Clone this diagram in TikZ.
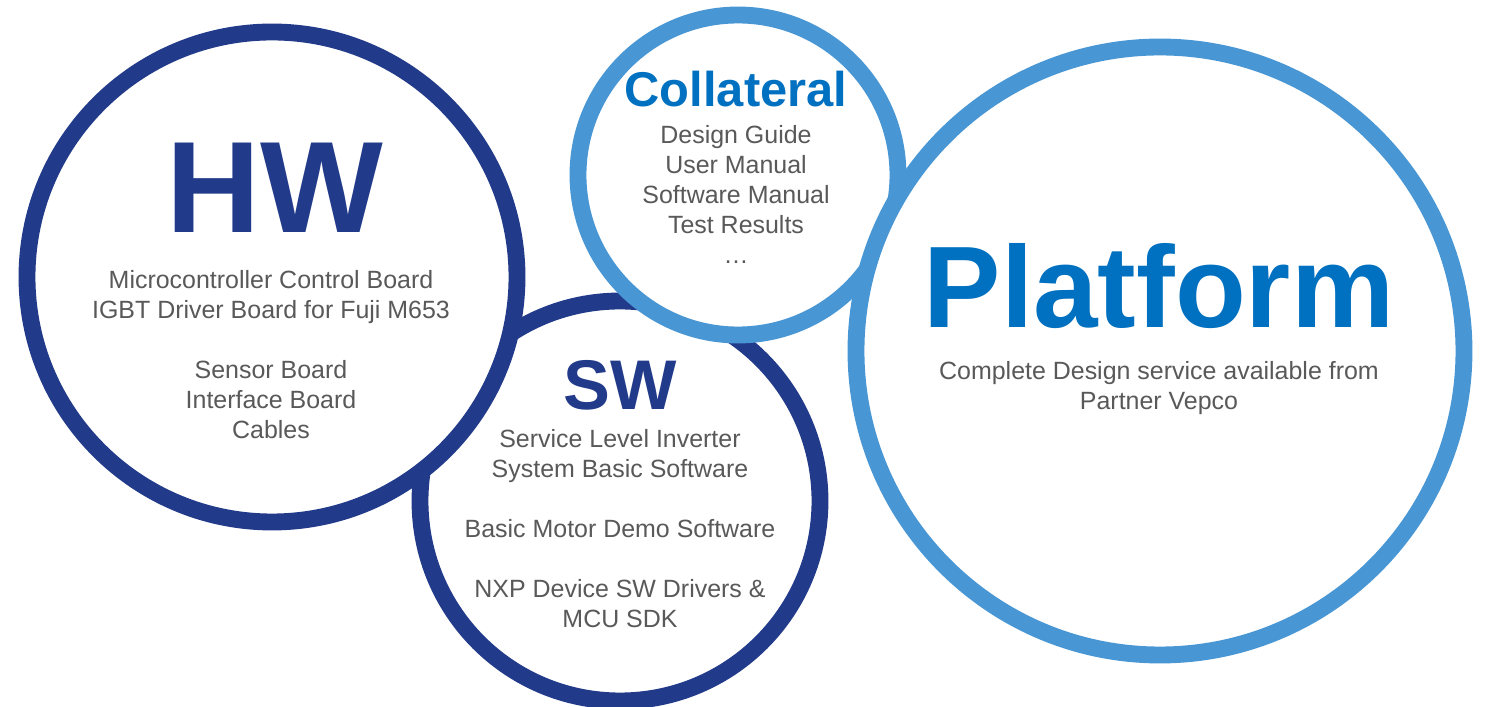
\documentclass[tikz,border=0pt]{standalone}
\usepackage{fontspec}
\setmainfont{Liberation Sans}

\definecolor{hwblue}{RGB}{34,58,138}
\definecolor{docblue}{RGB}{72,150,212}
\definecolor{titleblue}{RGB}{0,112,192}
\definecolor{textgray}{RGB}{89,89,89}

\begin{document}
\begin{tikzpicture}[
    ring/.style={circle,draw=#1,line width=4.8pt,fill=white,inner sep=0pt},
    bigtitle/.style={inner sep=0pt,anchor=base,font=\bfseries\fontsize{#1}{#1}\selectfont},
    items/.style={text=textgray,align=center,anchor=north,inner sep=0pt,
      font=\fontsize{7.1pt}{8.5pt}\selectfont}
  ]
  % \draw[help lines](0,0) grid (14.88,7.07);
  \useasboundingbox (0,0) rectangle (14.88,7.07);

  % circles, back to front
  \draw (6.20,2.06) node[ring=hwblue,minimum size=4cm] (sw) {};
  \draw (2.72,4.30) node[ring=hwblue,minimum size=4.9cm] (hw) {};
  \draw (7.38,5.32) node[ring=docblue,minimum size=3.2cm] (coll) {};
  \draw (11.60,3.56) node[ring=docblue,minimum size=6.08cm] (plat) {};

  \draw (2.75,4.74) node[bigtitle=37pt,text=hwblue] (hwtitle) {HW};
  \draw (2.71,4.37) node[items] (hwlist) {Microcontroller Control Board\\
    IGBT Driver Board for Fuji M653\\[8.5pt]
    Sensor Board\\ Interface Board\\ Cables};

  \draw (6.20,2.97) node[bigtitle=20pt,text=hwblue] (swtitle) {SW};
  \draw (6.20,2.78) node[items] (swlist) {Service Level Inverter\\
    System Basic Software\\[8.5pt]
    Basic Motor Demo Software\\[8.5pt]
    NXP Device SW Drivers \&\\ MCU SDK};

  \draw (7.36,6.00) node[bigtitle=13.9pt,text=titleblue] (colltitle) {Collateral};
  \draw (7.36,5.82) node[items] (colllist) {Design Guide\\ User Manual\\
    Software Manual\\ Test Results\\ …};

  \draw (11.59,3.79) node[bigtitle=33pt,text=titleblue] (plattitle) {Platform};
  \draw (11.59,3.46) node[items] (platlist) {Complete Design service available from\\
    Partner Vepco};
\end{tikzpicture}
\end{document}
